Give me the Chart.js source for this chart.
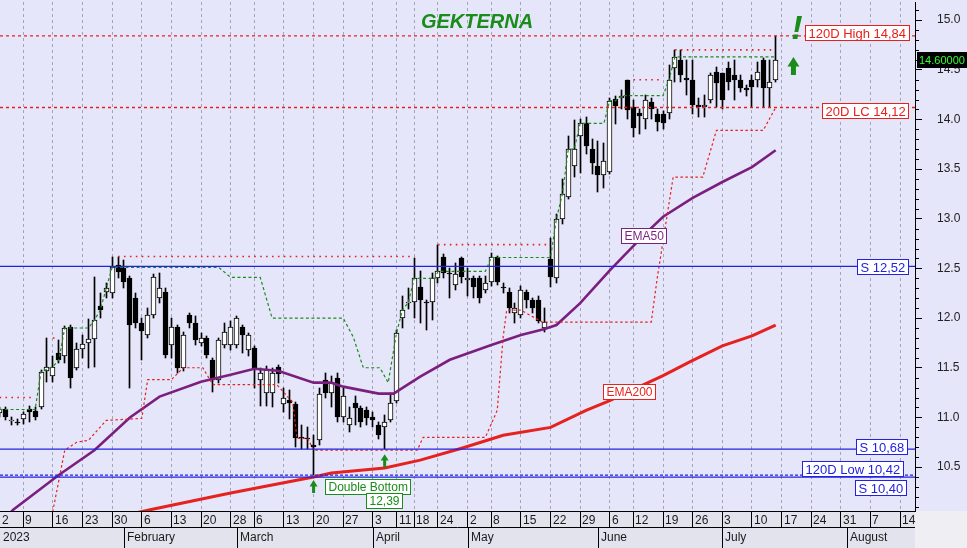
<!DOCTYPE html>
<html lang="en">
<head>
  <meta charset="UTF-8" />
  <title>GEKTERNA</title>
  <style>
    html, body { margin: 0; padding: 0; background: #ffffff; overflow: hidden; }
    #chart { display: block; }
  </style>
</head>
<body>
  <canvas id="chart" width="967" height="548"></canvas>

  <script src="https://cdn.jsdelivr.net/npm/chart.js@4.4.0/dist/chart.umd.min.js"></script>
  <script>
    // --- Daily OHLC, trading-day index 0 = 2 Jan 2023 ----------------
    const open = [11.04,11.08,10.96,10.95,10.98,11.08,11.06,11.10,11.47,11.42,
      11.65,11.62,11.91,11.50,11.69,11.75,11.79,12.12,12.26,12.25,
      12.53,12.50,12.40,12.20,11.95,11.83,12.03,12.20,12.26,11.73,
      11.91,11.50,12.03,11.95,11.75,11.80,11.58,11.38,11.73,11.73,
      11.73,11.91,11.68,11.70,11.38,11.25,11.25,11.51,11.14,11.18,
      11.14,10.80,10.79,10.72,10.77,11.38,11.25,11.40,11.00,10.92,
      11.15,11.09,11.07,11.00,10.92,10.90,10.97,11.17,12.00,12.15,
      12.16,12.31,12.16,12.16,12.40,12.62,12.45,12.33,12.60,12.38,
      12.40,12.40,12.28,12.36,12.61,12.31,12.26,12.05,12.03,12.26,
      12.18,12.18,11.90,12.59,12.40,13.00,13.22,13.53,13.83,13.96,
      13.70,13.53,13.44,13.47,14.21,14.22,14.40,14.13,14.06,14.00,
      14.18,14.05,14.05,14.06,14.52,14.60,14.42,14.40,14.15,14.12,
      14.20,14.48,14.47,14.52,14.45,14.40,14.32,14.40,14.40,14.60,
      14.32,14.40];
    const high = [11.10,11.10,11.00,10.98,11.05,11.12,11.10,11.48,11.80,11.62,
      11.78,11.92,11.93,11.75,11.83,11.99,12.41,12.25,12.35,12.62,
      12.62,12.58,12.42,12.25,12.00,12.10,12.44,12.45,12.30,12.00,
      11.93,11.86,12.05,12.02,11.85,11.82,11.60,11.80,11.95,11.97,
      12.02,11.93,11.85,11.72,11.50,11.52,11.50,11.53,11.30,11.28,
      11.16,10.92,10.90,10.82,11.30,11.45,11.42,11.45,11.30,11.10,
      11.22,11.12,11.10,11.05,10.95,11.02,11.25,11.88,12.22,12.30,
      12.60,12.47,12.18,12.45,12.74,12.65,12.50,12.55,12.62,12.50,
      12.42,12.42,12.42,12.66,12.63,12.35,12.30,12.15,12.32,12.28,
      12.20,12.22,12.10,12.81,13.05,13.40,13.83,13.99,14.00,14.02,
      13.80,13.78,13.76,14.22,14.24,14.30,14.40,14.20,14.10,14.25,
      14.22,14.10,14.08,14.55,14.70,14.70,14.60,14.60,14.22,14.25,
      14.47,14.53,14.47,14.58,14.60,14.45,14.35,14.45,14.58,14.62,
      14.60,14.84];
    const low = [11.00,10.97,10.92,10.92,10.93,10.95,10.97,11.08,11.36,11.36,
      11.55,11.55,11.30,11.48,11.60,11.50,11.51,12.00,12.20,12.20,
      12.40,12.30,11.30,11.90,11.58,11.80,12.00,12.15,11.60,11.60,
      11.45,11.47,11.90,11.73,11.72,11.60,11.26,11.35,11.70,11.68,
      11.70,11.65,11.62,11.30,11.12,11.12,11.10,11.35,11.05,10.98,
      10.70,10.68,10.68,10.42,10.72,11.20,11.10,10.95,10.95,10.85,
      10.92,10.90,10.92,10.90,10.78,10.68,10.95,11.15,11.90,12.09,
      12.00,11.95,11.88,11.98,12.35,12.40,12.20,12.28,12.35,12.22,
      12.20,12.15,12.25,12.32,12.33,12.25,12.05,11.95,12.00,12.10,
      12.05,11.95,11.86,12.31,12.35,12.95,13.20,13.42,13.46,13.65,
      13.45,13.27,13.31,13.45,13.95,14.10,14.00,13.82,13.85,13.90,
      14.00,13.88,13.90,14.00,14.38,14.38,14.25,14.05,14.02,14.02,
      14.17,14.12,14.10,14.30,14.20,14.28,14.24,14.12,14.33,14.12,
      14.12,14.38];
    const close = [11.08,11.00,10.97,10.94,11.03,11.05,11.00,11.46,11.51,11.51,
      11.58,11.90,11.40,11.69,11.74,11.79,11.98,12.08,12.30,12.51,
      12.46,12.36,11.93,11.95,11.87,12.03,12.41,12.30,11.63,11.91,
      11.50,11.83,11.95,11.78,11.80,11.63,11.38,11.78,11.86,11.91,
      12.00,11.83,11.83,11.50,11.45,11.48,11.45,11.44,11.20,11.15,
      10.79,10.79,10.78,10.70,11.24,11.25,11.35,11.00,11.22,10.99,
      11.09,10.95,10.99,10.97,10.82,10.95,11.15,11.85,12.08,12.16,
      12.40,12.18,12.15,12.40,12.47,12.45,12.44,12.44,12.41,12.40,
      12.31,12.20,12.35,12.61,12.36,12.30,12.10,12.10,12.28,12.18,
      12.10,11.97,11.96,12.41,13.00,13.25,13.70,13.70,13.96,13.73,
      13.56,13.44,13.58,14.19,14.14,14.24,14.09,13.91,14.03,14.20,
      14.10,13.97,13.96,14.40,14.63,14.45,14.40,14.15,14.12,14.15,
      14.45,14.37,14.20,14.38,14.40,14.32,14.30,14.33,14.48,14.32,
      14.38,14.60];

    // --- Indicators (index, value) ------------------------------------
    const ema50Idx = [0, 2.3, 10, 16, 22, 27, 34, 39, 43, 47, 53, 56, 58, 64, 66.5, 71, 76, 83, 88, 92, 94, 98, 103, 109, 112, 117, 122, 127, 131];
    const ema50 = [9.93, 10.07, 10.42, 10.67, 11.00, 11.21, 11.36, 11.43, 11.49, 11.47, 11.35, 11.35, 11.31, 11.24, 11.24, 11.41, 11.58, 11.73, 11.83, 11.89, 11.93, 12.15, 12.48, 12.85, 13.02, 13.21, 13.37, 13.52, 13.69];
    const ema200Idx = [20, 25.4, 39, 53, 56, 65, 71, 78, 85, 93, 99, 103, 108, 112, 116.5, 122, 127, 131];
    const ema200 = [10.00, 10.07, 10.24, 10.40, 10.44, 10.49, 10.57, 10.69, 10.82, 10.90, 11.07, 11.17, 11.31, 11.42, 11.56, 11.72, 11.82, 11.93];

    // 20-day highest close (green) and lowest close (red) step lines
    const hcIdx = [0, 6, 7, 9, 10, 11, 15, 16, 17, 18, 19, 37, 39, 44, 46, 58, 59.7, 61.4, 64.2, 65.6, 67, 68, 69, 70, 73.5, 74, 82, 83, 93, 94, 95, 96, 97, 98, 102, 103, 104, 105, 112, 113, 114, 131];
    const hcVal = [11.08, 11.08, 11.46, 11.51, 11.58, 11.90, 11.90, 11.98, 12.08, 12.30, 12.51, 12.51, 12.41, 12.41, 12.00, 12.00, 11.81, 11.50, 11.50, 11.35, 11.85, 12.08, 12.16, 12.40, 12.40, 12.47, 12.47, 12.61, 12.61, 13.00, 13.25, 13.70, 13.70, 13.96, 13.96, 14.19, 14.19, 14.24, 14.24, 14.40, 14.63, 14.63];
    const lcIdx = [8.8, 11, 13, 15, 18, 24, 25, 29, 31, 34.3, 36, 46.8, 49.5, 50.2, 52, 53, 70.5, 71.5, 82, 84, 85, 85.6, 88, 91.6, 110, 111, 113.7, 118.7, 121, 128.9, 131];
    const lcVal = [10.00, 10.67, 10.75, 10.77, 10.97, 10.99, 11.38, 11.38, 11.50, 11.50, 11.33, 11.33, 11.15, 10.79, 10.79, 10.67, 10.67, 10.80, 10.80, 11.07, 11.81, 12.08, 12.08, 11.96, 11.96, 12.40, 13.42, 13.42, 13.89, 13.89, 14.12];

    // 20-day high, drawn as one dot per day
    const hiDotFrom = [0, 9, 20, 74, 107, 114];
    const hiDotTo = [6, 10, 70, 93, 112, 131];
    const hiDotVal = [11.20, 11.80, 12.62, 12.74, 14.40, 14.70];

    // horizontal levels
    const levelVal = [14.84, 14.12, 12.52, 10.68, 10.42, 10.40];
    const levelTxt = ['120D High 14,84', '20D LC 14,12', 'S 12,52', 'S 10,68', '120D Low 10,42', 'S 10,40'];

    // --- Axis labels --------------------------------------------------
    const weekIdx = [0,4,9,14,19,24,29,34,39,43,48,53,58,63,67,70,74,79,83,88,93,98,103,107,112,117,122,127,132,137,142,147,152];
    const weekLbl = ['2','9','16','23','30','6','13','20','28','6','13','20','27','3','11','18','24','2','8','15','22','29','6','12','19','26','3','10','17','24','31','7','14'];
    const monthIdx = [0, 21, 40, 63, 79, 101, 122, 143];
    const monthLbl = ['2023', 'February', 'March', 'April', 'May', 'June', 'July', 'August'];
    const yTicks = [10.5, 11.0, 11.5, 12.0, 12.5, 13.0, 13.5, 14.0, 14.5, 15.0];

    const XMIN = 0.07, XMAX = 154.52;
    const FONT = '"Liberation Sans", Arial, sans-serif';
    const RED = '#e5221e', BLUE = '#2222e0', GREEN = '#1a8c1a', PURPLE = '#7b1f7f';

    // --- Build datasets -----------------------------------------------
    const days = close.map((_, i) => i);
    const wickData = days.map(i => ({ x: i, y: [low[i], high[i]] }));
    const bodyData = days.map(i => ({ x: i, y: [Math.min(open[i], close[i]), Math.max(open[i], close[i])] }));
    const bodyFill = days.map(i => close[i] >= open[i] ? '#ffffff' : '#000000');
    const pts = (xs, ys) => xs.map((v, k) => ({ x: v, y: ys[k] }));

    const hiDots = [];
    hiDotFrom.forEach((f, k) => {
      hiDots.push({ x: f, y: hiDotVal[k] }, { x: hiDotTo[k], y: hiDotVal[k] }, { x: hiDotTo[k] + 0.5, y: null });
    });

    const levelStyle = [
      { color: '#e8201c', dash: [3, 3], width: 1.3 },
      { color: '#e8201c', dash: [3, 3], width: 1.3 },
      { color: BLUE, dash: [], width: 1.2 },
      { color: BLUE, dash: [], width: 1.2 },
      { color: BLUE, dash: [3, 2], width: 1.2 },
      { color: BLUE, dash: [], width: 1.2 }
    ];
    const levelSets = levelVal.map((v, k) => ({
      type: 'line', data: [{ x: XMIN, y: v }, { x: XMAX, y: v }],
      borderColor: levelStyle[k].color, borderWidth: levelStyle[k].width, borderDash: levelStyle[k].dash,
      pointRadius: 0, order: 3, clip: 0
    }));

    const datasets = [
      { type: 'bar', data: wickData, backgroundColor: '#000', barThickness: 1, grouped: false, order: 20 },
      { type: 'bar', data: bodyData, backgroundColor: bodyFill, borderColor: '#000', borderWidth: 1,
        borderSkipped: false, barThickness: 5, minBarLength: 1, grouped: false, order: 19 },
      { type: 'line', data: pts(ema200Idx, ema200), borderColor: RED, borderWidth: 3, pointRadius: 0, order: 6, clip: 0 },
      { type: 'line', data: pts(ema50Idx, ema50), borderColor: PURPLE, borderWidth: 2.6, pointRadius: 0, order: 5, clip: 0 },
      { type: 'line', data: pts(hcIdx, hcVal), borderColor: GREEN, borderWidth: 1.2, borderDash: [3, 2.5], pointRadius: 0, order: 4, clip: 0 },
      { type: 'line', data: pts(lcIdx, lcVal), borderColor: RED, borderWidth: 1.2, borderDash: [2.5, 2.5], pointRadius: 0, order: 4, clip: 0 },
      { type: 'line', data: hiDots, borderColor: RED, borderWidth: 1.6, borderDash: [1.6, 4.32], spanGaps: false, pointRadius: 0, order: 2, clip: 0 },
      ...levelSets
    ];

    // --- Drawing helpers ----------------------------------------------
    function tagBox(ctx, text, right, cy, color, font) {
      ctx.font = font;
      const w = Math.round(ctx.measureText(text).width + 6);
      const h = 15;
      const x = Math.round(right - w), y = Math.round(cy - h / 2);
      ctx.fillStyle = '#ffffff';
      ctx.fillRect(x, y, w, h);
      ctx.strokeStyle = color; ctx.lineWidth = 1; ctx.setLineDash([]);
      ctx.strokeRect(x + 0.5, y + 0.5, w, h);
      ctx.fillStyle = color; ctx.textAlign = 'left'; ctx.textBaseline = 'middle';
      ctx.fillText(text, x + 3.5, y + h / 2 + 1.5);
    }
    function upArrow(ctx, x, tipY, len, headW, shaftW, color) {
      const headH = headW * 0.8;
      ctx.fillStyle = color;
      ctx.beginPath();
      ctx.moveTo(x, tipY);
      ctx.lineTo(x + headW / 2, tipY + headH);
      ctx.lineTo(x + shaftW / 2, tipY + headH);
      ctx.lineTo(x + shaftW / 2, tipY + len);
      ctx.lineTo(x - shaftW / 2, tipY + len);
      ctx.lineTo(x - shaftW / 2, tipY + headH);
      ctx.lineTo(x - headW / 2, tipY + headH);
      ctx.closePath();
      ctx.fill();
    }

    // --- Plugin: snap candle bars to whole pixels so outlines stay crisp
    const crisp = {
      id: 'crisp',
      afterDatasetsUpdate(chart) {
        chart.getSortedVisibleDatasetMetas().forEach(meta => {
          if (meta.type !== 'bar') return;
          meta.data.forEach(el => {
            el.x = Math.floor(el.x) + 0.5;
            el.y = Math.round(el.y);
            el.base = Math.round(el.base);
          });
        });
      }
    };

    // --- Plugin: panel backgrounds and two-row date axis --------------
    const panel = {
      id: 'panel',
      beforeDraw(chart) {
        const { ctx, chartArea: a, width, height } = chart;
        ctx.save();
        ctx.fillStyle = '#e6e6fa'; ctx.fillRect(0, 0, width, height);
        ctx.fillStyle = '#e3e3ee'; ctx.fillRect(0, a.bottom, a.right, height - a.bottom);
        ctx.fillStyle = '#efeff3'; ctx.fillRect(a.right, a.bottom, width - a.right, height - a.bottom);
        ctx.restore();
      },
      afterDraw(chart) {
        const { ctx, chartArea: a, height, scales: { x, y } } = chart;
        const mid = a.bottom + 16;
        ctx.save();
        ctx.strokeStyle = '#000'; ctx.lineWidth = 1;
        ctx.beginPath(); ctx.moveTo(0, mid + 0.5); ctx.lineTo(a.right, mid + 0.5); ctx.stroke();
        ctx.font = '12px ' + FONT; ctx.fillStyle = '#1a1a1a';
        ctx.textAlign = 'left'; ctx.textBaseline = 'alphabetic';
        weekIdx.forEach((v, k) => {
          const px = Math.round(x.getPixelForValue(v));
          ctx.fillText(weekLbl[k], Math.max(px + 2, 1), mid - 3);
        });
        monthIdx.forEach((v, k) => {
          const px = Math.round(x.getPixelForValue(v));
          if (k > 0) { ctx.beginPath(); ctx.moveTo(px + 0.5, mid); ctx.lineTo(px + 0.5, height); ctx.stroke(); }
          ctx.fillText(monthLbl[k], Math.max(px + 3, 1), height - 7);
        });
        // minor ticks on the price axis
        for (let k = 101; k <= 151; k++) {
          if (k % 5 === 0) continue;
          const py = Math.round(y.getPixelForValue(k / 10)) + 0.5;
          ctx.beginPath(); ctx.moveTo(a.right, py); ctx.lineTo(a.right + 4, py); ctx.stroke();
        }
        ctx.restore();
      }
    };

    // --- Plugin: labels, arrows, title --------------------------------
    const notes = {
      id: 'notes',
      afterDraw(chart) {
        const { ctx, chartArea: a, scales: { x, y } } = chart;
        ctx.save();
        const lbl = '13px ' + FONT;
        const offs = [-3, 3, 0, -3, -7, 10];
        const rights = [909, 908, 908, 907, 903, 906];
        levelVal.forEach((v, k) => {
          tagBox(ctx, levelTxt[k], rights[k], y.getPixelForValue(v) + offs[k], levelStyle[k].color, lbl);
        });
        tagBox(ctx, 'EMA50', x.getPixelForValue(109) + 21, y.getPixelForValue(12.85) + 2, PURPLE, '12px ' + FONT);
        tagBox(ctx, 'EMA200', x.getPixelForValue(106.4) + 25, y.getPixelForValue(11.28) + 2, RED, '12px ' + FONT);
        tagBox(ctx, 'Double Bottom', 410, 486, GREEN, '12px ' + FONT);
        tagBox(ctx, '12,39', 402, 500, GREEN, '12px ' + FONT);

        upArrow(ctx, x.getPixelForValue(53), y.getPixelForValue(10.42) + 5, 13, 8, 3, GREEN);
        upArrow(ctx, x.getPixelForValue(65), y.getPixelForValue(10.68) + 5, 13, 8, 3, GREEN);
        upArrow(ctx, x.getPixelForValue(134), 57, 18, 12, 5, GREEN);

        ctx.fillStyle = GREEN; ctx.textAlign = 'center'; ctx.textBaseline = 'alphabetic';
        ctx.font = 'italic bold 34px ' + FONT;
        ctx.fillText('!', x.getPixelForValue(134.6), 39);
        ctx.font = 'italic bold 20px ' + FONT;
        ctx.fillText('GEKTERNA', 477, 28);

        // last price tag on the axis
        const py = Math.round(y.getPixelForValue(close[close.length - 1]));
        ctx.fillStyle = '#000'; ctx.fillRect(a.right + 2, py - 8, 50, 16);
        ctx.fillStyle = '#33ff33'; ctx.font = '11px ' + FONT; ctx.textAlign = 'left'; ctx.textBaseline = 'middle';
        ctx.fillText(close[close.length - 1].toFixed(5), a.right + 4, py + 1);
        ctx.restore();
      }
    };

    Chart.defaults.font.family = FONT;

    new Chart(document.getElementById('chart'), {
      type: 'line',
      data: { datasets },
      options: {
        responsive: false,
        devicePixelRatio: 1,
        animation: false,
        layout: { padding: { top: 2, left: 0, right: 0, bottom: 0 } },
        plugins: { legend: { display: false }, tooltip: { enabled: false } },
        scales: {
          x: {
            type: 'linear', position: 'bottom', min: XMIN, max: XMAX, offset: false,
            afterBuildTicks: s => { s.ticks = weekIdx.map(v => ({ value: v })); },
            afterFit: s => { s.height = 37; s.paddingLeft = 0; s.paddingRight = 0; },
            grid: { drawOnChartArea: true, drawTicks: true, tickLength: 16, color: '#a4a4b6', lineWidth: 1,
                    tickColor: '#000', tickWidth: 1, tickBorderDash: [], offset: false },
            border: { display: true, color: '#000', width: 1, dash: [3, 3] },
            ticks: { display: false }
          },
          y: {
            position: 'right', min: 10.058, max: 15.182,
            afterBuildTicks: s => { s.ticks = yTicks.map(v => ({ value: v })); },
            afterFit: s => { s.width = 52; s.paddingTop = 0; s.paddingBottom = 0; },
            grid: { drawOnChartArea: false, drawTicks: true, tickLength: 7, tickColor: '#000', tickWidth: 1 },
            border: { display: true, color: '#000', width: 1 },
            ticks: { padding: 15, color: '#222', font: { size: 12 }, callback: v => Number(v).toFixed(1) }
          }
        }
      },
      plugins: [crisp, panel, notes]
    });
  </script>
</body>
</html>
